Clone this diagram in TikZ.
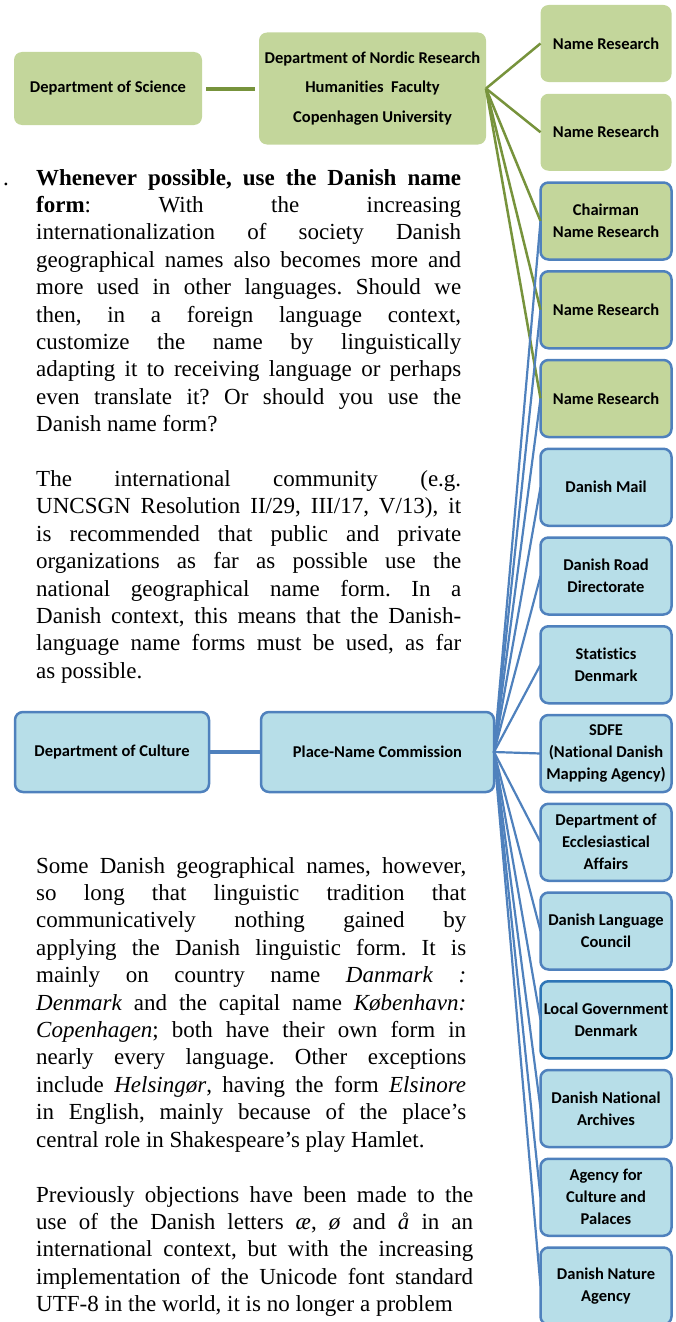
\documentclass[tikz,border=0pt]{standalone}
\usepackage{fontspec}
\setmainfont{Liberation Serif}
\newfontfamily\boxfont[Ligatures=NoCommon]{Carlito}
\usetikzlibrary{positioning}
\definecolor{leafgreen}{HTML}{C3D69B}
\definecolor{olivegreen}{HTML}{77933C}
\definecolor{paleblue}{HTML}{B7DEE8}
\definecolor{steelblue}{HTML}{4F81BD}
\definecolor{deepblue}{HTML}{2E75B6}
\frenchspacing
\tolerance=10000
\hbadness=10000

\begin{document}
\begin{tikzpicture}[
  x=1pt, y=-1pt,
  unit/.style={rectangle, rounded corners=8pt, align=center, inner sep=2pt,
    outer sep=0pt, font=\boxfont\bfseries\fontsize{16.5}{22}\selectfont},
  greenunit/.style={unit, fill=leafgreen},
  blueunit/.style={unit, fill=paleblue, draw=steelblue, line width=2.5pt},
  mixunit/.style={unit, fill=leafgreen, draw=steelblue, line width=2.5pt},
  member/.style={minimum width=131pt, minimum height=77pt},
  greenlink/.style={draw=olivegreen, line width=2.5pt},
  bluelink/.style={draw=steelblue, line width=2.2pt},
  body/.style={anchor=base west, align=justify, inner sep=0pt,
    font=\fontsize{23}{27.4}\selectfont}
]
\useasboundingbox (0,0) rectangle (675,1322);

\node[greenunit, minimum width=188pt, minimum height=73pt] (science) at (108,88.5)
  {Department of Science};
\node[greenunit, minimum width=227pt, minimum height=112pt,
  font=\boxfont\bfseries\fontsize{16.5}{29.5}\selectfont, right=57pt of science] (nordic)
  {Department of Nordic Research\\Humanities\ \ Faculty\\Copenhagen University};

\node[blueunit, minimum width=194pt, minimum height=80pt] (culture) at (112,752)
  {Department of Culture};
\node[blueunit, minimum width=233pt, minimum height=80pt, right=52pt of culture] (commission)
  {Place-Name Commission};

\node[greenunit, member] (nr1) at (606,43.5) {Name Research};
\node[greenunit, member, below=11.75pt of nr1] (nr2) {Name Research};
\node[mixunit, member, below=11.75pt of nr2] (chair) {Chairman\\Name Research};
\node[mixunit, member, below=11.75pt of chair] (nr3) {Name Research};
\node[mixunit, member, below=11.75pt of nr3] (nr4) {Name Research};
\node[blueunit, member, below=11.75pt of nr4] (mail) {Danish Mail};
\node[blueunit, member, below=11.75pt of mail] (road) {Danish Road\\Directorate};
\node[blueunit, member, below=11.75pt of road] (stats) {Statistics\\Denmark};
\node[blueunit, member, below=11.75pt of stats] (sdfe) {SDFE\\(National Danish\\Mapping Agency)};
\node[blueunit, member, below=11.75pt of sdfe] (church) {Department of\\Ecclesiastical\\Affairs};
\node[blueunit, member, below=11.75pt of church] (language) {Danish Language\\Council};
\node[blueunit, member, draw=deepblue, below=11.75pt of language] (locgov) {Local Government\\Denmark};
\node[blueunit, member, below=11.75pt of locgov] (archives) {Danish National\\Archives};
\node[blueunit, member, below=11.75pt of archives] (palaces) {Agency for\\Culture and\\Palaces};
\node[blueunit, member, below=11.75pt of palaces] (nature) {Danish Nature\\Agency};

\draw[greenlink, line width=4pt, shorten <=4pt, shorten >=4pt] (science) -- (nordic);
\draw[greenlink] (nordic.east) -- (nr1.west);
\draw[greenlink] (nordic.east) -- (nr2.west);
\draw[greenlink] (nordic.east) -- (chair.west);
\draw[greenlink] (nordic.east) -- (nr3.west);
\draw[greenlink] (nordic.east) -- (nr4.west);

\draw[bluelink, line width=3.5pt] (culture) -- (commission);
\draw[bluelink] (commission.east) -- (chair.west);
\draw[bluelink] (commission.east) -- (nr3.west);
\draw[bluelink] (commission.east) -- (nr4.west);
\draw[bluelink] (commission.east) -- (mail.west);
\draw[bluelink] (commission.east) -- (road.west);
\draw[bluelink] (commission.east) -- (stats.west);
\draw[bluelink] (commission.east) -- (sdfe.west);
\draw[bluelink] (commission.east) -- (church.west);
\draw[bluelink] (commission.east) -- (language.west);
\draw[bluelink] (commission.east) -- (locgov.west);
\draw[bluelink] (commission.east) -- (archives.west);
\draw[bluelink] (commission.east) -- (palaces.west);
\draw[bluelink] (commission.east) -- (nature.west);

\node[body] (bullet) at (3,185) {.};
\node[body, text width=425pt] (intro) at (36,185)
  {\textbf{Whenever possible, use the Danish name}\linebreak
  \textbf{form}: With the increasing\linebreak
  internationalization of society Danish\linebreak
  geographical names also becomes more and\linebreak
  more used in other languages. Should we\linebreak
  then, in a foreign language context,\linebreak
  customize the name by linguistically\linebreak
  adapting it to receiving language or perhaps\linebreak
  even translate it? Or should you use the\linebreak
  Danish name form?};
\node[body, text width=425pt] (norms) at (36,486.5)
  {The international community (e.g.\linebreak
  UNCSGN Resolution II/29, III/17, V/13), it\linebreak
  is recommended that public and private\linebreak
  organizations as far as possible use the\linebreak
  national geographical name form. In a\linebreak
  Danish context, this means that the Danish-\linebreak
  language name forms must be used, as far\linebreak
  as possible.};
\node[body, text width=430pt] (exceptions) at (36,873)
  {Some Danish geographical names, however,\linebreak
  so long that linguistic tradition that\linebreak
  communicatively nothing gained by\linebreak
  applying the Danish linguistic form. It is\linebreak
  mainly on country name \textit{Danmark :}\linebreak
  \textit{Denmark} and the capital name \textit{København:}\linebreak
  \textit{Copenhagen}; both have their own form in\linebreak
  nearly every language. Other exceptions\linebreak
  include \textit{Helsingør}, having the form \textit{Elsinore}\linebreak
  in English, mainly because of the place’s\linebreak
  central role in Shakespeare’s play Hamlet.};
\node[body, text width=437pt] (letters) at (36,1202)
  {\parfillskip=0pt Previously objections have been made to the\linebreak
  use of the Danish letters \textit{æ}, \textit{ø} and \textit{å} in an\linebreak
  international context, but with the increasing\linebreak
  implementation of the Unicode font standard\linebreak
  UTF-8 in the world, it is no longer a problem};

\end{tikzpicture}
\end{document}
